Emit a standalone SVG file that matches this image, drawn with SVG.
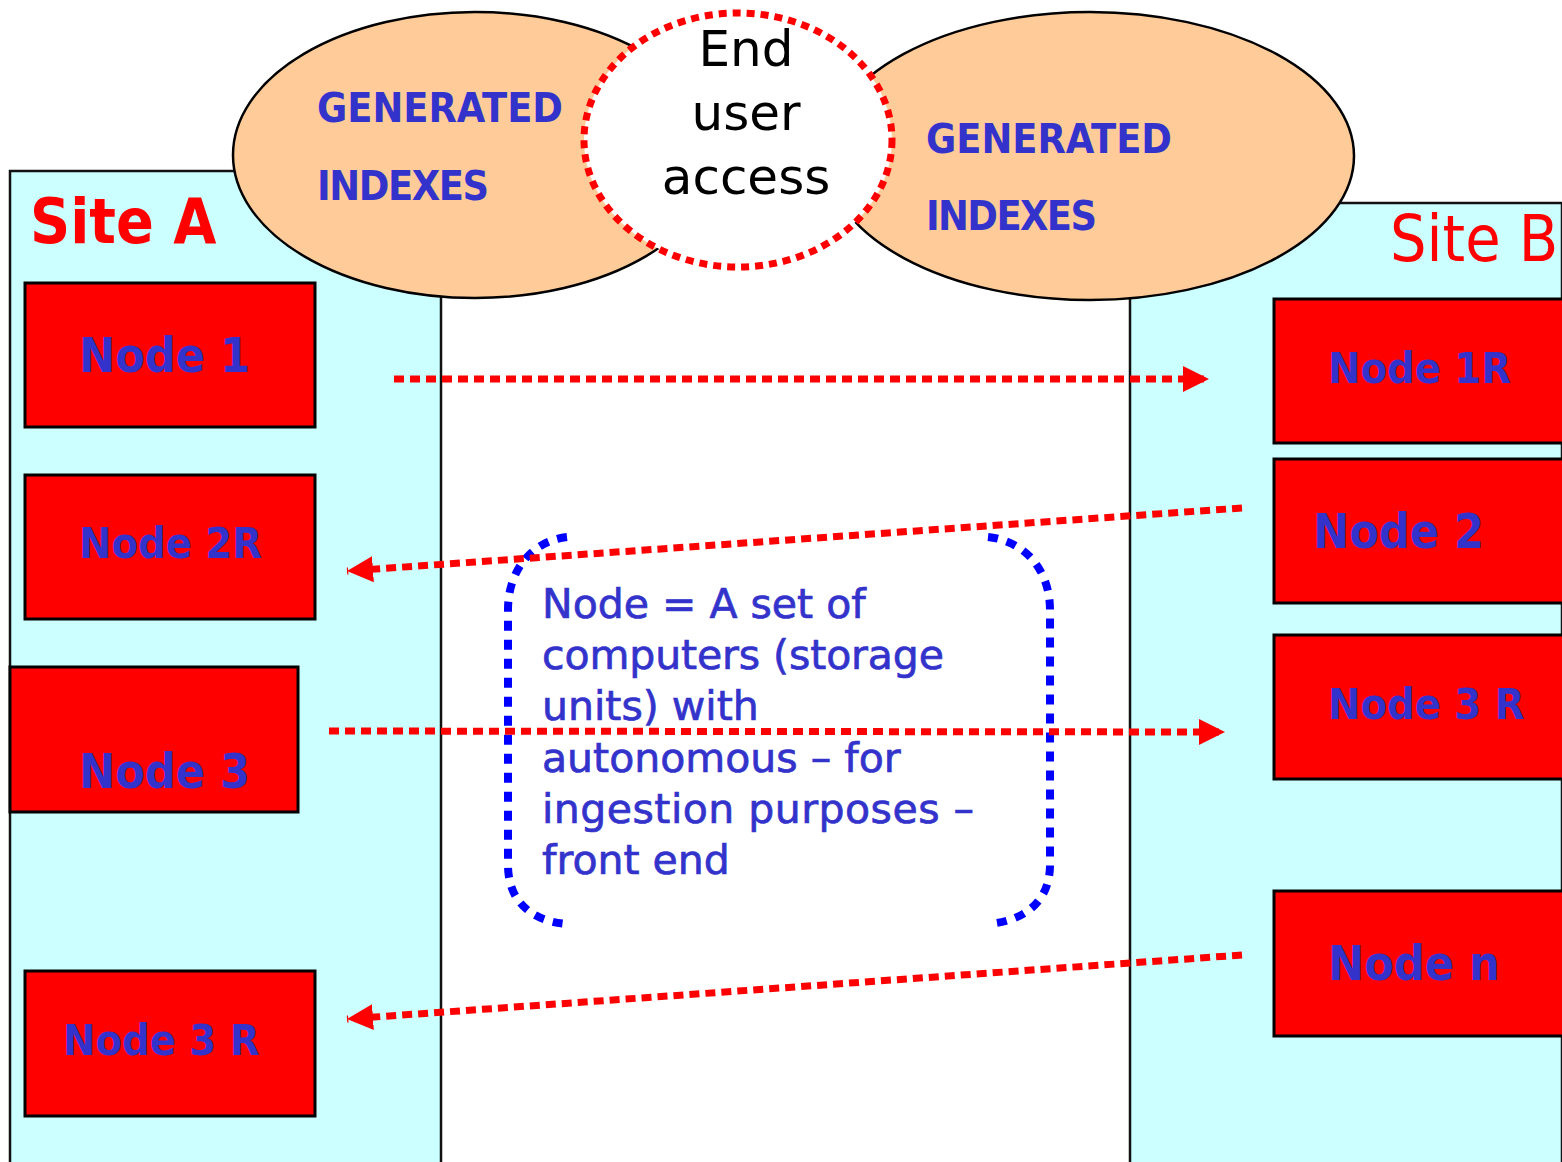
<svg xmlns="http://www.w3.org/2000/svg" width="1562" height="1162" viewBox="0 0 1562 1162">
<defs>
<style>
.site{fill:#CCFFFF;stroke:#111;stroke-width:2.5}
.ell{fill:#FFCC99;stroke:#000;stroke-width:2.5}
.node{fill:#FF0000;stroke:#000;stroke-width:3}
.nl{font-family:"DejaVu Sans Condensed","DejaVu Sans",sans-serif;font-weight:bold;fill:#3333CC}
.gen{font-family:"DejaVu Sans Condensed","DejaVu Sans",sans-serif;font-weight:bold;font-size:41px;fill:#3333CC}
.conn{fill:none;stroke:#FF0000;stroke-width:7;stroke-dasharray:10 6}
.brk{fill:none;stroke:#0000FF;stroke-width:8;stroke-dasharray:10 9}
.desc{font-family:"DejaVu Sans",sans-serif;font-size:41px;fill:#3333CC;stroke:#3333CC;stroke-width:0.7}
.eua{font-family:"DejaVu Sans",sans-serif;font-size:50px;fill:#000;text-anchor:middle}
</style>
<marker id="ah" viewBox="0 0 24 24" refX="24" refY="12" markerWidth="26" markerHeight="26" markerUnits="userSpaceOnUse" orient="auto">
<path d="M0,0 L24,12 L0,24 z" fill="#FF0000"/>
</marker>
</defs>
<rect width="1562" height="1162" fill="#FFFFFF"/>

<g id="siteA">
<rect class="site" x="10" y="171" width="431" height="1010"/>
<text x="30" y="243" font-family="'DejaVu Sans Condensed','DejaVu Sans',sans-serif" font-weight="bold" font-size="62" fill="#FF0000">Site A</text>
</g>
<g id="siteB">
<rect class="site" x="1130" y="203" width="432" height="1010"/>
<text x="1390" y="261" font-family="'DejaVu Sans Condensed','DejaVu Sans',sans-serif" font-size="64" fill="#FF0000">Site B</text>
</g>

<g id="indexesA">
<ellipse class="ell" cx="475" cy="155" rx="242" ry="143"/>
<text class="gen" x="317" y="122" textLength="246">GENERATED</text>
<text class="gen" x="317" y="200" textLength="172">INDEXES</text>
</g>
<g id="indexesB">
<ellipse class="ell" cx="1090" cy="156" rx="264" ry="144"/>
<text class="gen" x="926" y="153" textLength="246">GENERATED</text>
<text class="gen" x="926" y="230" textLength="171">INDEXES</text>
</g>
<g id="endUserAccess">
<ellipse cx="738" cy="140" rx="154" ry="127" fill="#FFFFFF" stroke="#FF0000" stroke-width="7" stroke-dasharray="8 6"/>
<text class="eua" x="746" y="66">End</text>
<text class="eua" x="746" y="130">user</text>
<text class="eua" x="746" y="194">access</text>
</g>

<g id="node1"><rect class="node" x="25" y="283" width="290" height="144"/><text class="nl" x="79" y="372" font-size="48">Node 1</text></g>
<g id="node2R"><rect class="node" x="25" y="475" width="290" height="144"/><text class="nl" x="79" y="558" font-size="43">Node 2R</text></g>
<g id="node3"><rect class="node" x="10" y="667" width="288" height="145"/><text class="nl" x="79" y="788" font-size="48">Node 3</text></g>
<g id="node3RA"><rect class="node" x="25" y="971" width="290" height="145"/><text class="nl" x="63" y="1055" font-size="43">Node 3 R</text></g>
<g id="node1R"><rect class="node" x="1274" y="299" width="290" height="144"/><text class="nl" x="1328" y="383" font-size="43">Node 1R</text></g>
<g id="node2"><rect class="node" x="1274" y="459" width="290" height="144"/><text class="nl" x="1313" y="548" font-size="48">Node 2</text></g>
<g id="node3RB"><rect class="node" x="1274" y="635" width="290" height="144"/><text class="nl" x="1328" y="719" font-size="43">Node 3 R</text></g>
<g id="nodeN"><rect class="node" x="1274" y="891" width="290" height="145"/><text class="nl" x="1328" y="980" font-size="48">Node n</text></g>

<g id="note">
<path class="brk" d="M567,537 C532,541 508,570 508,610 L508,865 C508,900 530,921 567,924"/>
<path class="brk" d="M988,537 C1025,541 1050,570 1050,610 L1050,865 C1050,900 1026,921 988,924"/>
<text class="desc" x="542" y="618">Node = A set of</text>
<text class="desc" x="542" y="669" textLength="402">computers (storage</text>
<text class="desc" x="542" y="720">units) with</text>
<text class="desc" x="542" y="772">autonomous – for</text>
<text class="desc" x="542" y="823" textLength="432">ingestion purposes –</text>
<text class="desc" x="542" y="874">front end</text>
</g>

<g id="connectors">
<path class="conn" d="M394,379 L1209,379" marker-end="url(#ah)"/>
<path class="conn" d="M1242,508 L347,571" marker-end="url(#ah)"/>
<path class="conn" d="M329,731 L1225,732" marker-end="url(#ah)"/>
<path class="conn" d="M1242,955 L347,1019" marker-end="url(#ah)"/>
</g>
</svg>
